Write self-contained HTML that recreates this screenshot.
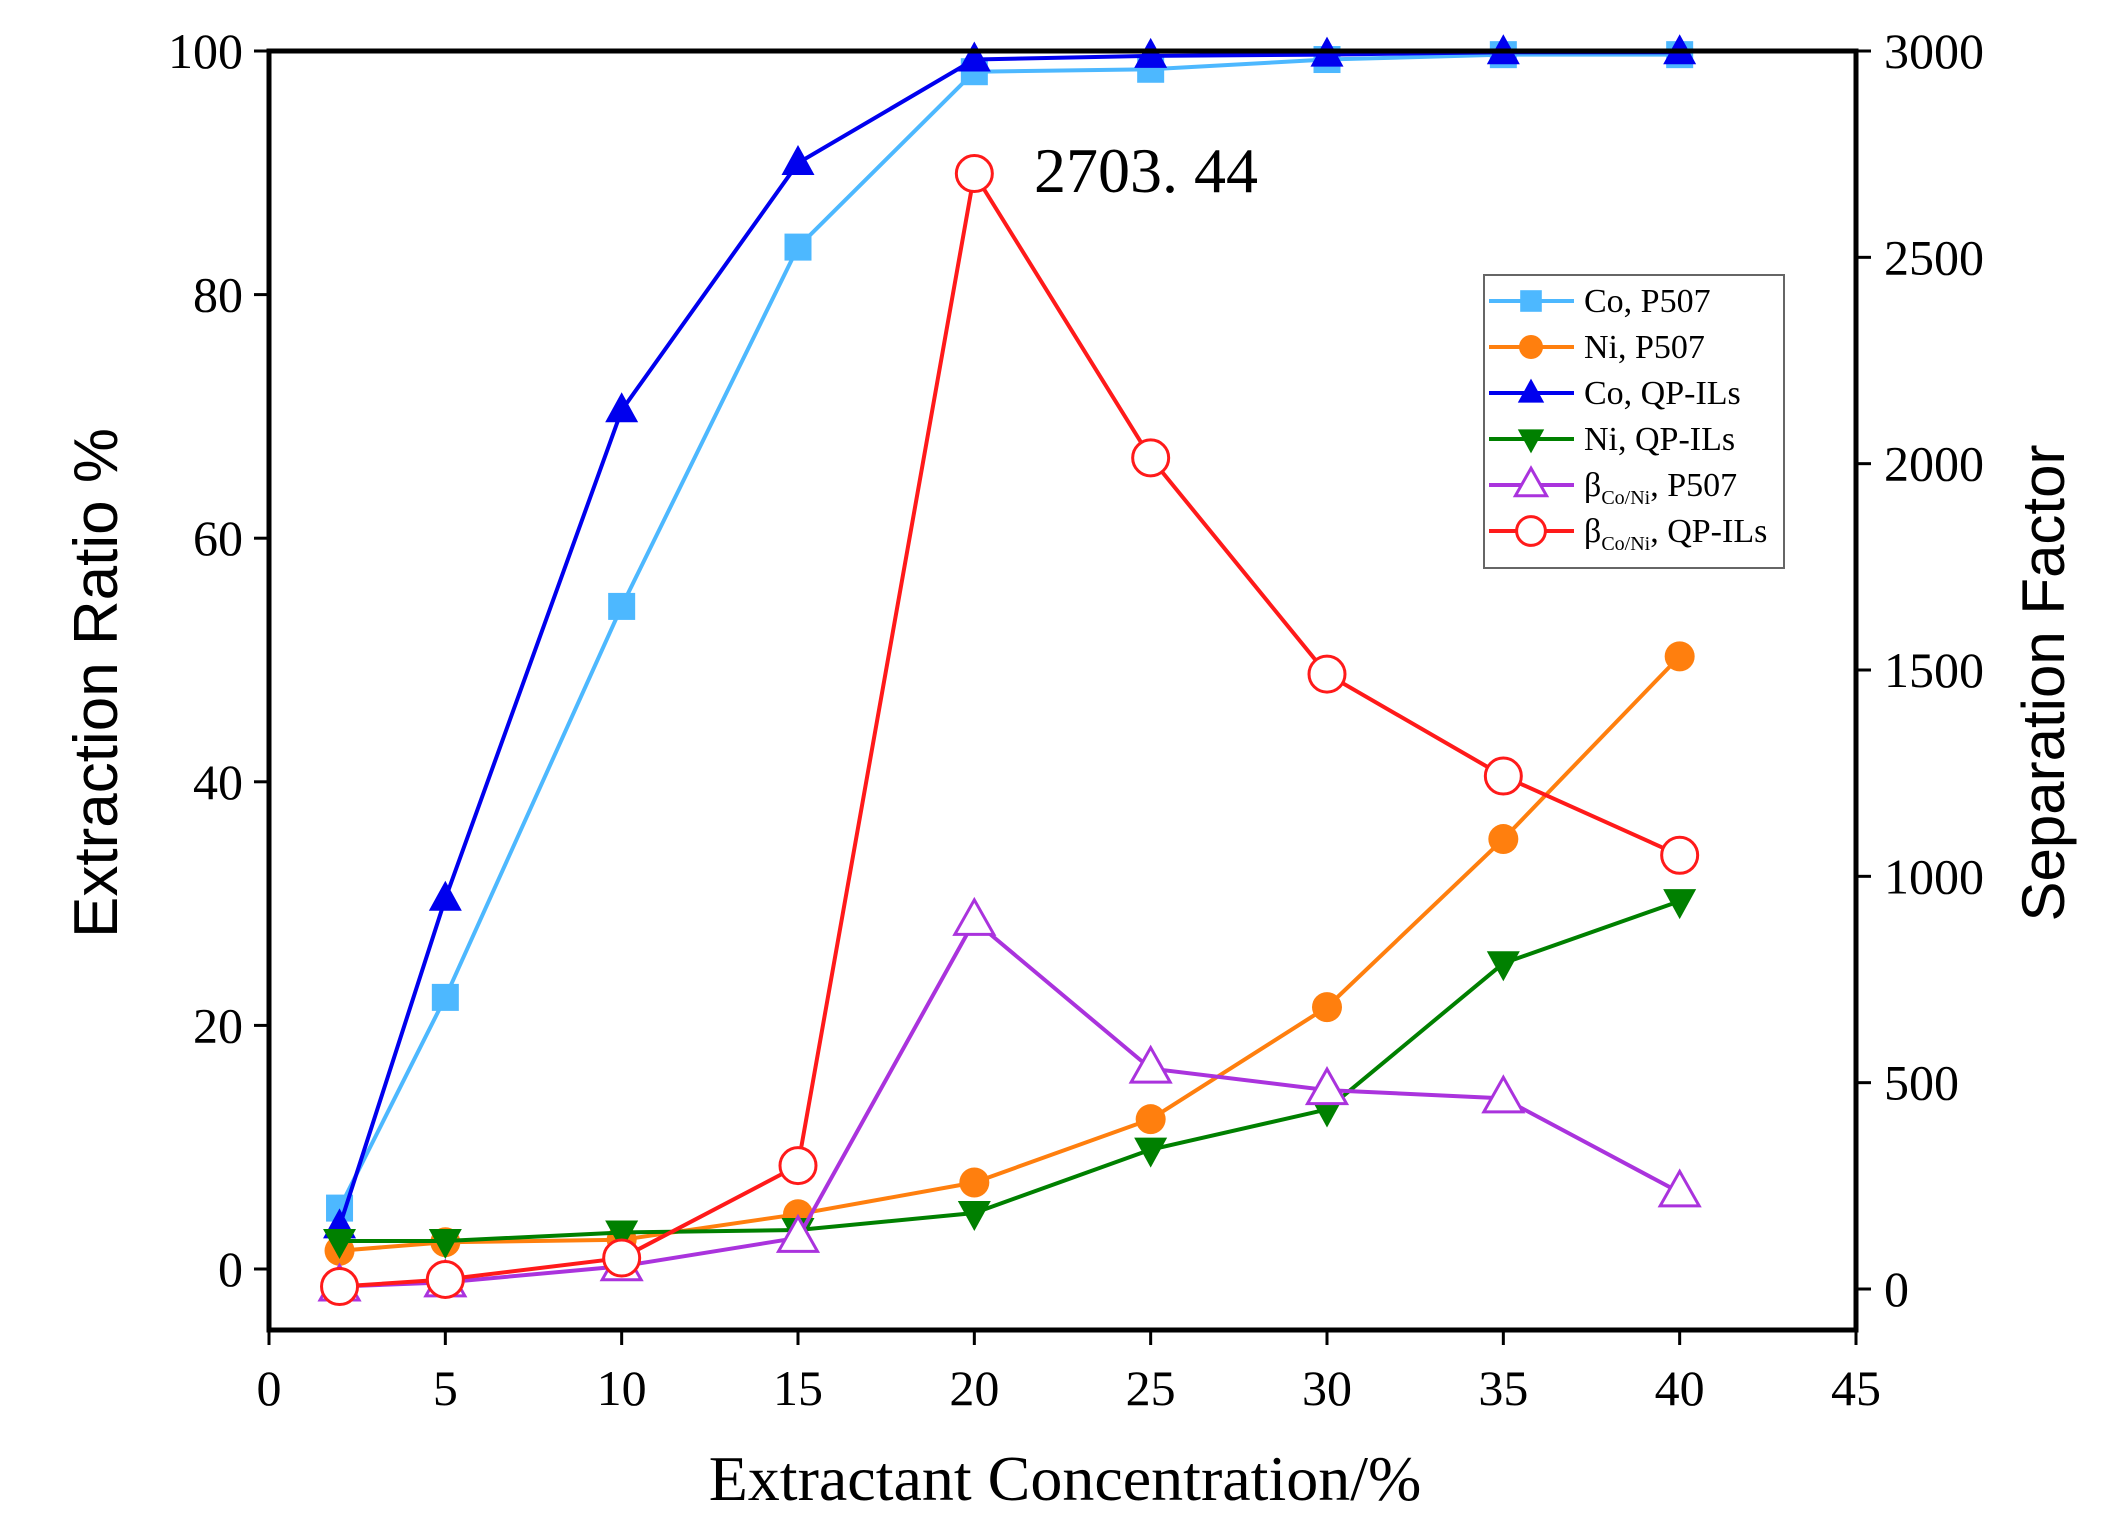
<!DOCTYPE html>
<html><head><meta charset="utf-8">
<style>
html,body{margin:0;padding:0;background:#fff;}
svg{display:block;font-family:"Liberation Serif",serif;}
</style></head>
<body>
<svg id="chart" width="2104" height="1536" viewBox="0 0 2104 1536" xmlns="http://www.w3.org/2000/svg">
<g id="series"></g>
<rect x="269" y="51" width="1587" height="1279" fill="none" stroke="#000" stroke-width="5"/>
<g id="axes"></g>
<text x="1065" y="1500" font-size="64" text-anchor="middle">Extractant Concentration/%</text>
<text transform="translate(117,683) rotate(-90)" font-size="62" text-anchor="middle" font-family="Liberation Sans, sans-serif">Extraction Ratio %</text>
<text transform="translate(2064,683) rotate(-90)" font-size="60" text-anchor="middle" font-family="Liberation Sans, sans-serif">Separation Factor</text>
<text x="1034" y="192" font-size="64">2703. 44</text>
<g id="legend">
<rect x="1484" y="275" width="300" height="293" fill="#fff" stroke="#666" stroke-width="2"/>
</g>
</svg>
<script>
const xs = [2,5,10,15,20,25,30,35,40];
const coP507 = [5,22.3,54.4,83.9,98.3,98.5,99.3,99.7,99.7];
const niP507 = [1.5,2.2,2.4,4.5,7.1,12.3,21.5,35.3,50.3];
const coQP = [3.5,30.4,70.5,90.8,99.3,99.6,99.7,99.9,99.9];
const niQP = [2.3,2.3,3.0,3.2,4.6,9.8,13.1,25.1,30.2];
const betaP507 = [6,16,55,124,892,534,482,462,234];
const betaQP = [6,23,75,299,2703,2014,1490,1243,1051];
const xTicks = [0,5,10,15,20,25,30,35,40,45];
const yTicks = [0,20,40,60,80,100];
const y2Ticks = [0,500,1000,1500,2000,2500,3000];

const NS="http://www.w3.org/2000/svg";
const X = v => 269 + v*(1587/45);
const Y = v => 1269 - v*(1218/100);
const Y2 = v => 1289 - v*(1238/3000);
function mk(tag, attrs, parent){const e=document.createElementNS(NS,tag);for(const k in attrs)e.setAttribute(k,attrs[k]);parent.appendChild(e);return e;}
const axes=document.getElementById('axes'), series=document.getElementById('series'), legend=document.getElementById('legend');

xTicks.forEach(t=>{
  const l=mk('line',{x1:X(t),x2:X(t),y1:1330,y2:1345,stroke:'#000','stroke-width':3},axes);
  
  
  const tx=mk('text',{x:X(t),y:1405,'font-size':50,'text-anchor':'middle'},axes);tx.textContent=t;
  
  
});
yTicks.forEach(t=>{
  const l=mk('line',{x1:254,x2:269,y1:Y(t),y2:Y(t),stroke:'#000','stroke-width':3},axes);
  
  
  const tx=mk('text',{x:243,y:Y(t)+17,'font-size':50,'text-anchor':'end'},axes);tx.textContent=t;
  
  
});
y2Ticks.forEach(t=>{
  const l=mk('line',{x1:1856,x2:1871,y1:Y2(t),y2:Y2(t),stroke:'#000','stroke-width':3},axes);
  
  
  const tx=mk('text',{x:1884,y:Y2(t)+17,'font-size':50,'text-anchor':'start'},axes);tx.textContent=t;
  
  
});

function marker(g,type,cx,cy,color,s){
  if(type==='square') return mk('rect',{x:cx-s*0.45,y:cy-s*0.45,width:s*0.9,height:s*0.9,fill:color},g);
  if(type==='circle') return mk('circle',{cx:cx,cy:cy,r:s*0.5,fill:color},g);
  if(type==='up') return mk('polygon',{points:`${cx},${cy-s*0.6} ${cx-s*0.55},${cy+s*0.4} ${cx+s*0.55},${cy+s*0.4}`,fill:color},g);
  if(type==='down') return mk('polygon',{points:`${cx},${cy+s*0.6} ${cx-s*0.55},${cy-s*0.4} ${cx+s*0.55},${cy-s*0.4}`,fill:color},g);
  if(type==='oup') return mk('polygon',{points:`${cx},${cy-s*0.7} ${cx-s*0.65},${cy+s*0.45} ${cx+s*0.65},${cy+s*0.45}`,fill:'#fff',stroke:color,'stroke-width':3},g);
  if(type==='ocirc') return mk('circle',{cx:cx,cy:cy,r:s*0.6,fill:'#fff',stroke:color,'stroke-width':3},g);
}
const defs=[
  {name:'co-p507',vals:coP507,ax:Y,color:'#4db8ff',m:'square',label:'Co, P507'},
  {name:'ni-p507',vals:niP507,ax:Y,color:'#ff7f0e',m:'circle',label:'Ni, P507'},
  {name:'co-qpils',vals:coQP,ax:Y,color:'#0000ee',m:'up',label:'Co, QP-ILs'},
  {name:'ni-qpils',vals:niQP,ax:Y,color:'#008000',m:'down',label:'Ni,  QP-ILs'},
  {name:'beta-p507',vals:betaP507,ax:Y2,color:'#aa33dd',m:'oup',label:'β',sub:'Co/Ni',rest:', P507'},
  {name:'beta-qpils',vals:betaQP,ax:Y2,color:'#ff1a1a',m:'ocirc',label:'β',sub:'Co/Ni',rest:', QP-ILs'}
];
defs.forEach((d,i)=>{
  const g=mk('g',{},series);
  
  
  const pts=xs.map((x,j)=>X(x)+','+d.ax(d.vals[j])).join(' ');
  const pl=mk('polyline',{points:pts,fill:'none',stroke:d.color,'stroke-width':4},g);
  
  
  xs.forEach((x,j)=>{
    const p=marker(g,d.m,X(x),d.ax(d.vals[j]),d.color,30);
    
    
  });
  const ly=301+i*46;
  const lg=mk('g',{},legend);
  
  
  mk('line',{x1:1489,x2:1574,y1:ly,y2:ly,stroke:d.color,'stroke-width':4},lg);
  marker(lg,d.m,1531,ly,d.color,24);
  const t=mk('text',{x:1584,y:ly+11,'font-size':34},lg);
  if(d.sub){
    t.textContent=d.label;
    const s=mk('tspan',{'font-size':20,dy:8},t);s.textContent=d.sub;
    const r=mk('tspan',{dy:-8},t);r.textContent=d.rest;
  } else t.textContent=d.label;
});
</script>
</body></html>
